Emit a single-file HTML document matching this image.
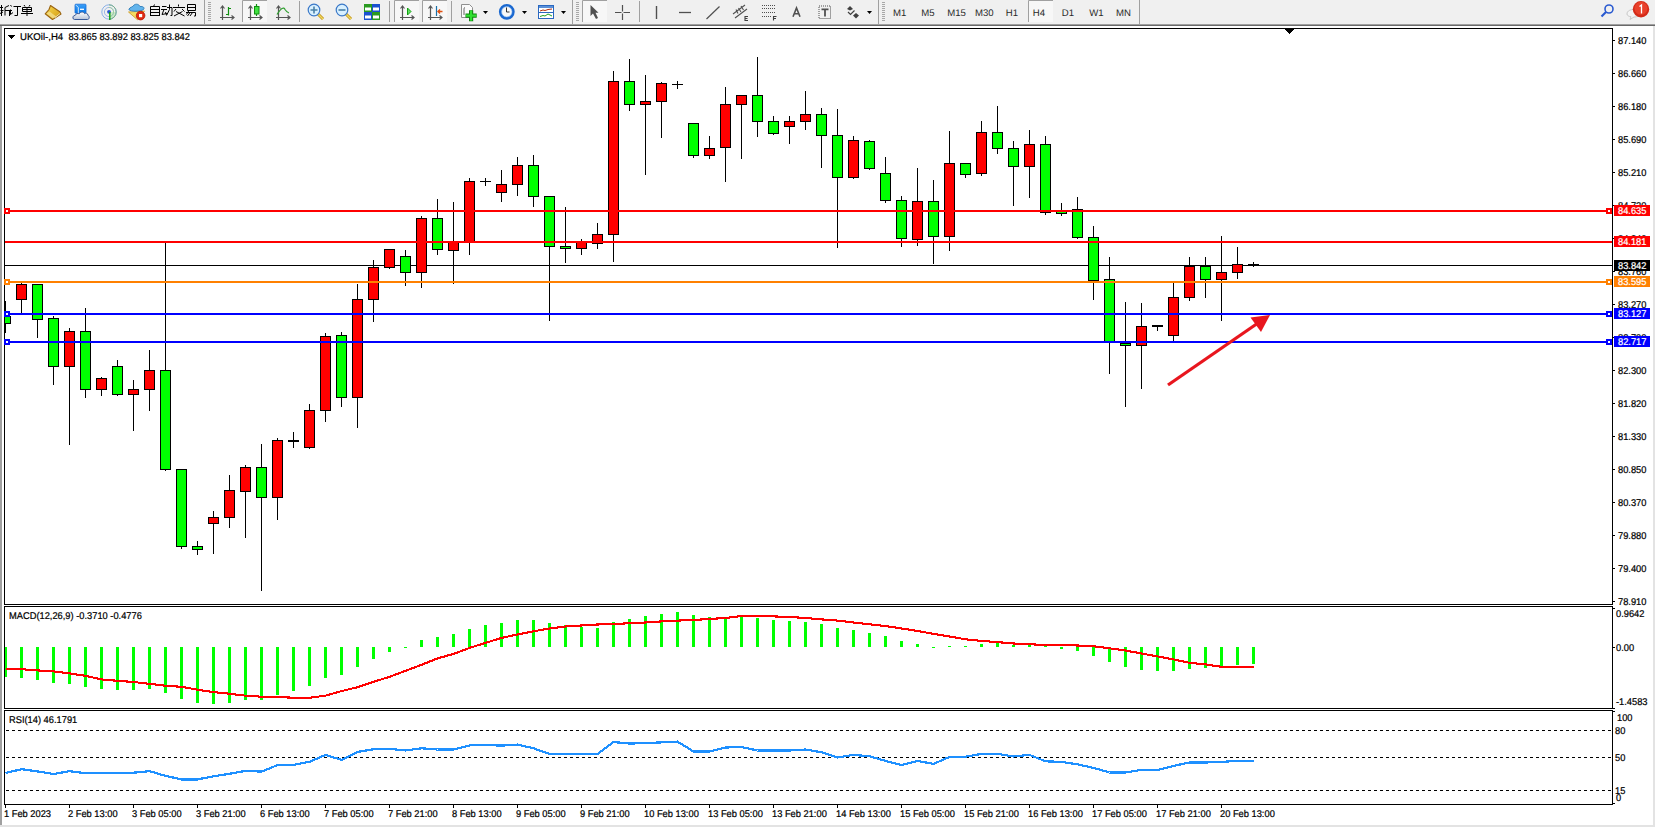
<!DOCTYPE html>
<html><head><meta charset="utf-8"><style>
html,body{margin:0;padding:0;}
body{width:1655px;height:827px;overflow:hidden;background:#f0f0f0;position:relative;font-family:"Liberation Sans", sans-serif;}
svg{position:absolute;left:0;top:0;}
text{font-family:"Liberation Sans", sans-serif;text-rendering:geometricPrecision;}
</style></head><body>
<svg width="1655" height="827" viewBox="0 0 1655 827" shape-rendering="crispEdges">
<defs><pattern id="grip" width="3" height="2" patternUnits="userSpaceOnUse"><rect width="3" height="1" fill="#a8a8a8"/><rect y="1" width="3" height="1" fill="#f0f0f0"/></pattern></defs>
<rect x="0" y="0" width="1655" height="24" fill="#f0f0f0"/>
<g id="toolbar" shape-rendering="auto">
<!-- CJK glyph approximations: 新订单 -->
<g stroke="#000" stroke-width="1" fill="none">
<path d="M0 7.5H3M0.5 10.5H3.5M1.5 5V16M0 13.5L3 12"/>
<path d="M9 5.5L5 7.5V15.5M5 10.5H12M9.5 10.5V16"/>
<path d="M10.5 5L11.5 6.5M10.5 9.5V14.5L13 12.5"/>
<path d="M13.5 6.5H21M17.5 6.5V15.5H14.5"/>
<path d="M24 5L25 6.5M30 5L29 6.5M22.5 7.5H31.5V11.5H22.5ZM22.5 9.5H31.5M27 7.5V16M21 13.5H33"/>
</g>
<!-- 自动交易 -->
<g stroke="#000" stroke-width="1" fill="none">
<path d="M154.5 4.5L153.5 6.5M150.5 6.5H159.5V16M150.5 6.5V16M150.5 9.5H159.5M150.5 12.5H159.5M150.5 15.5H159.5"/>
<path d="M162 6.5H166.5M161 9.5H167M164 9.5L162 14.5L167 13.5M165.5 12L166.5 15M167 7.5H172V15.5H170.5M169.5 4.5V9.5L166.5 15.5"/>
<path d="M178.5 4.5V6.5M173 7.5H185M176 9L174 11.5M182 9L184.5 11.5M176 11.5L184.5 16M182.5 11.5L174 16"/>
<path d="M187.5 4.5H195.5V10.5H187.5ZM187.5 7.5H195.5M186 12.5H195.5V16H194M189 10.5L186.5 14.5M190 12.5L187.5 16M192.5 12.5L190 16"/>
</g>
<!-- gold book -->
<defs><linearGradient id="gb" x1="0" y1="0" x2="1" y2="1"><stop offset="0" stop-color="#f6d850"/><stop offset="1" stop-color="#d49a10"/></linearGradient>
<linearGradient id="cl" x1="0" y1="0" x2="0" y2="1"><stop offset="0" stop-color="#ffffff"/><stop offset="1" stop-color="#b8c4d8"/></linearGradient>
<linearGradient id="bl" x1="0" y1="0" x2="0" y2="1"><stop offset="0" stop-color="#3aa0f8"/><stop offset="1" stop-color="#0a78e8"/></linearGradient></defs>
<path d="M50.5 5.5L59.8 11.8L61 14L52.5 19.5L45.2 13.8L49 9.5Z" fill="url(#gb)" stroke="#9a6410" stroke-width="1.1" stroke-linejoin="round"/>
<path d="M46.5 13.6L49.5 11.5L56.5 16.8L52.8 18.6Z" fill="#f4e090" opacity="0.8"/>
<path d="M55 17.5L60 13.5" stroke="#e8dca8" stroke-width="1"/>
<!-- building + cloud -->
<rect x="75" y="4.2" width="11" height="9" rx="0.8" fill="url(#bl)" stroke="#1a70d8" stroke-width="0.8"/>
<path d="M76 5.2L78.3 7.5V13" fill="none" stroke="#e8f4ff" stroke-width="0.9"/>
<path d="M80 9.3H84" stroke="#ffffff" stroke-width="1.3"/>
<path d="M74.6 19.5C72.3 19.5 72.2 15.3 75.2 15.4C75.6 13.6 78 13 79.2 13.9C80 11.6 83.8 11.4 84.6 13.6C85.6 12.8 88.2 13.3 87.9 15.3C89.8 15.8 89.6 19.5 87.5 19.5Z" fill="url(#cl)" stroke="#3a5a98" stroke-width="1"/>
<!-- signal -->
<path d="M109 12L109 19.5A7.5 7.5 0 0 0 116.5 12Z" fill="#c8e8c0" opacity="0.9"/>
<circle cx="109" cy="12" r="7.2" fill="none" stroke="#8ab0e8" stroke-width="1"/>
<circle cx="109" cy="12" r="4.6" fill="none" stroke="#9cb8e8" stroke-width="1"/>
<path d="M109 4.8A7.2 7.2 0 0 1 109 19.2" fill="none" stroke="#78b088" stroke-width="1"/>
<path d="M109 7.4A4.6 4.6 0 0 1 109 16.6" fill="none" stroke="#a0d0a0" stroke-width="1"/>
<circle cx="109" cy="11.8" r="1.9" fill="#2a58d0"/>
<path d="M109.8 12V20" fill="none" stroke="#10a010" stroke-width="1.4"/>
<!-- hat / auto trading -->
<path d="M128.5 12L144.5 11L137.5 19.8Z" fill="#f4dc60" stroke="#d0a030" stroke-width="0.9" stroke-linejoin="round"/>
<path d="M128.8 9.5C130 6.5 133 7.5 134 5C136 3.5 139 4.2 140 6.5C143 6.2 145 7.5 143.5 9.5C141 11.5 131 12 128.8 9.5Z" fill="#62b4ec" stroke="#2a7ab8" stroke-width="0.9"/>
<circle cx="140.6" cy="15.6" r="4.3" fill="#e02a10" stroke="#b81808" stroke-width="0.8"/>
<rect x="139" y="14" width="3.2" height="3.2" fill="#fff"/>
<!-- separators & grips -->
<g fill="#a0a0a0">
<rect x="204" y="0" width="1" height="24"/>
<rect x="299" y="1" width="1" height="21"/>
<rect x="389" y="1" width="1" height="21"/>
<rect x="451" y="1" width="1" height="21"/>
<rect x="572" y="0" width="1" height="24"/>
<rect x="639" y="1" width="1" height="21"/>
<rect x="878" y="0" width="1" height="24"/>
<rect x="1139" y="0" width="1" height="24"/>
</g>
<g fill="none" stroke="#b4b4b4" stroke-width="1" stroke-dasharray="1,2">
<path d="M208 2.5V21M210 2.5V21" stroke-dasharray="none" stroke="none"/>
</g>
<g fill="#a8a8a8">
<rect x="208" y="2" width="3" height="19" fill="url(#grip)"/>
<rect x="576" y="2" width="3" height="19" fill="url(#grip)"/>
<rect x="882" y="2" width="3" height="19" fill="url(#grip)"/>
</g>
<!-- pressed buttons -->
<g>
<rect x="242" y="0" width="25" height="22" fill="#f7f7f7"/>
<path d="M242.5 22V0.5H267" fill="none" stroke="#a0a0a0" stroke-width="1"/>
<rect x="394" y="0" width="25" height="22" fill="#f7f7f7"/>
<path d="M394.5 22V0.5H419" fill="none" stroke="#a0a0a0" stroke-width="1"/>
<rect x="422" y="0" width="25" height="22" fill="#f7f7f7"/>
<path d="M422.5 22V0.5H447" fill="none" stroke="#a0a0a0" stroke-width="1"/>
<rect x="582" y="0" width="25" height="22" fill="#f7f7f7"/>
<path d="M582.5 22V0.5H607" fill="none" stroke="#a0a0a0" stroke-width="1"/>
<rect x="1028" y="0" width="25" height="22" fill="#f7f7f7"/>
<path d="M1028.5 22V0.5H1053" fill="none" stroke="#a0a0a0" stroke-width="1"/>
</g>
<!-- axes icons -->
<g fill="none" stroke="#555" stroke-width="1.2">
<path d="M222.5 6.5V20M220 17.5H234M220.5 8.5L222.5 6L224.5 8.5M231.5 15.5L234 17.5L231.5 19.5"/>
<path d="M250.5 6.5V20M248 17.5H262M248.5 8.5L250.5 6L252.5 8.5M259.5 15.5L262 17.5L259.5 19.5"/>
<path d="M278.5 6.5V20M276 17.5H290M276.5 8.5L278.5 6L280.5 8.5M287.5 15.5L290 17.5L287.5 19.5"/>
<path d="M402.5 6.5V20M400 17.5H414M400.5 8.5L402.5 6L404.5 8.5M411.5 15.5L414 17.5L411.5 19.5"/>
<path d="M430.5 6.5V20M428 17.5H442M428.5 8.5L430.5 6L432.5 8.5M439.5 15.5L442 17.5L439.5 19.5"/>
</g>
<path d="M228.5 7V15.5M228.5 8.5H231M228.5 14.5H226" fill="none" stroke="#109010" stroke-width="1.2"/>
<path d="M256.5 4V16" stroke="#109010" stroke-width="1.2"/>
<rect x="254.5" y="6.5" width="4.5" height="7.5" fill="#40e040" stroke="#109010" stroke-width="1"/>
<path d="M277 14.5Q283 5 285 9.5Q287 12.5 289 13" fill="none" stroke="#30a030" stroke-width="1.2"/>
<path d="M407.5 8L411 11.5L407.5 15Z" fill="#60e060" stroke="#10a010" stroke-width="1"/>
<path d="M436.5 6V16" stroke="#1a70a8" stroke-width="1.2"/>
<path d="M438 11.5H442.5M440 9.5L438 11.5L440 13.5" fill="none" stroke="#e05010" stroke-width="1.4"/>
<!-- zoom in/out -->
<g>
<path d="M318 14L323 19" stroke="#c09010" stroke-width="3"/>
<path d="M318 14L323 19" stroke="#f0d860" stroke-width="1.5"/>
<circle cx="314" cy="10" r="5.8" fill="#d8f0ff" stroke="#3a78c8" stroke-width="1.2"/>
<path d="M310.5 10H317.5M314 6.5V13.5" stroke="#4a80a8" stroke-width="1.6"/>
<path d="M346 14L351 19" stroke="#c09010" stroke-width="3"/>
<path d="M346 14L351 19" stroke="#f0d860" stroke-width="1.5"/>
<circle cx="342" cy="10" r="5.8" fill="#d8f0ff" stroke="#3a78c8" stroke-width="1.2"/>
<path d="M338.5 10H345.5" stroke="#4a80a8" stroke-width="1.6"/>
</g>
<!-- tile windows -->
<g>
<rect x="364" y="4" width="8" height="8" fill="#2a9a20"/>
<rect x="372" y="4" width="8" height="8" fill="#1a50d0"/>
<rect x="364" y="12" width="8" height="8" fill="#1a50d0"/>
<rect x="372" y="12" width="8" height="8" fill="#2a9a20"/>
<g fill="#fff"><rect x="365" y="7.5" width="6" height="3"/><rect x="373" y="7.5" width="6" height="3"/><rect x="365" y="15.5" width="6" height="3"/><rect x="373" y="15.5" width="6" height="3"/></g>
</g>
<!-- indicators doc + plus -->
<path d="M461.5 4.5H469.5L472.5 7.5V17.5H461.5Z" fill="#fafafa" stroke="#909090" stroke-width="1"/>
<path d="M465 7.5C464 7.5 464 9 464 10V15" fill="none" stroke="#404040" stroke-width="0.8"/>
<path d="M465.5 15.7H476.7M471.1 10.2V21.2" stroke="#108010" stroke-width="4.2"/>
<path d="M465.9 15.7H476.3M471.1 10.6V20.8" stroke="#30e030" stroke-width="2.2"/>
<!-- clock -->
<circle cx="506.8" cy="11.8" r="6.6" fill="#f8f8f8" stroke="#1a68d0" stroke-width="2.6"/><circle cx="506.8" cy="11.8" r="5.2" fill="none" stroke="#7ab0f0" stroke-width="0.6"/>
<path d="M506.5 7.5V12H509.5" fill="none" stroke="#333" stroke-width="1"/>
<!-- template -->
<rect x="538.5" y="5.5" width="15" height="13" fill="#fff" stroke="#2a68c0" stroke-width="1"/>
<rect x="539" y="6" width="14" height="2" fill="#5a90d8"/>
<path d="M539 12.5H553" stroke="#2a68c0" stroke-width="1"/>
<path d="M540 11L543 10L545 10.5L548 9.5L552 9" fill="none" stroke="#b03010" stroke-width="1"/>
<path d="M540 16.5L543 15.5L545 16L548 14L552 16" fill="none" stroke="#20a020" stroke-width="1"/>
<!-- dropdown arrows -->
<g fill="#000">
<path d="M483 11H488L485.5 14Z"/>
<path d="M522 11H527L524.5 14Z"/>
<path d="M561 11H566L563.5 14Z"/>
<path d="M867 11H872L869.5 14Z"/>
</g>
<!-- cursor -->
<path d="M590.5 5V16L593 13.5L596 19L598 18L595.5 12.8H598.5Z" fill="#505050"/>
<!-- crosshair -->
<path d="M615 12.5H621.5M623.5 12.5H630M622.5 5V11.5M622.5 13.5V20" stroke="#505050" stroke-width="1.2"/>
<!-- line tools -->
<path d="M656.5 6V19" stroke="#505050" stroke-width="1.4"/>
<path d="M679 12.5H691" stroke="#505050" stroke-width="1.3"/>
<path d="M706.5 19L719.5 6.5" stroke="#505050" stroke-width="1.2"/>
<!-- fib E -->
<path d="M733 14L745 5M735 18L747 9M736 9.5L738 13.5M738.5 8L741 12M741 6L743.5 10" fill="none" stroke="#505050" stroke-width="1.1"/>
<path d="M748 16.5H745V20.5H748M745 18.5H747.5" fill="none" stroke="#404040" stroke-width="1.1"/>
<!-- fib F dotted -->
<g stroke="#505050" stroke-width="1" stroke-dasharray="1,1">
<path d="M762 5.5H775M762 8.5H775M762 12.5H775M762 16.5H771"/>
</g>
<path d="M776.5 16.5H773.5V20.5M773.5 18.5H776" fill="none" stroke="#404040" stroke-width="1.1"/>
<!-- A -->
<path d="M793 16.8L796.5 8L800 16.8M794.3 13.8H798.7" fill="none" stroke="#505050" stroke-width="1.6"/>
<!-- T box -->
<rect x="819" y="6" width="11.5" height="12.5" fill="none" stroke="#505050" stroke-width="1" stroke-dasharray="1,1"/>
<path d="M821.5 9.3H828.5M825 9.3V16.5" stroke="#505050" stroke-width="1.8"/>
<!-- arrows icon -->
<path d="M850 6L853 9L850 10.5L847 9Z" fill="#404040"/>
<path d="M856 13L859 15.5L856 18.5L853 15.5Z" fill="#404040"/>
<path d="M848 12L850.5 14.5L854.5 10.5" fill="none" stroke="#404040" stroke-width="1.2"/>
<!-- timeframe text -->
<g font-family="Liberation Sans, sans-serif" font-size="9.6" fill="#2a2a2a" style="text-rendering:geometricPrecision">
<text x="893" y="15.7">M1</text>
<text x="921.3" y="15.7">M5</text>
<text x="947.3" y="15.7">M15</text>
<text x="975" y="15.7">M30</text>
<text x="1005.8" y="15.7">H1</text>
<text x="1032.8" y="15.7">H4</text>
<text x="1061.8" y="15.7">D1</text>
<text x="1089.3" y="15.7">W1</text>
<text x="1116" y="15.7">MN</text>
</g>
<!-- search -->
<circle cx="1609" cy="9" r="4" fill="none" stroke="#2a5ad0" stroke-width="1.6"/>
<path d="M1606 12L1601.5 16.5" stroke="#2a5ad0" stroke-width="2.2"/>
<!-- chat + badge -->
<path d="M1627 14C1627 10.5 1631 9.5 1634 9.5C1637 9.5 1640 11 1640 14C1640 16 1637 17 1634 17L1630 19.5L1631 16.8C1628.5 16.3 1627 15.5 1627 14Z" fill="#f4f4f4" stroke="#c8c8c8" stroke-width="1"/>
<circle cx="1641" cy="9.3" r="8.2" fill="#d42a18"/>
<circle cx="1641" cy="8.3" r="6.5" fill="#e8402a"/>
<path d="M1639.5 6.5L1641.5 5V13.5" fill="none" stroke="#fff" stroke-width="1.3"/>
</g>

<rect x="0" y="25" width="1655" height="802" fill="#fff"/>
<rect x="0" y="24" width="2" height="801" fill="#a0a0a0"/>
<rect x="1653" y="24" width="2" height="803" fill="#e3e3e3"/>
<rect x="0" y="825" width="1655" height="2" fill="#e3e3e3"/>
<rect x="0" y="24" width="1655" height="1" fill="#a0a0a0"/>
<rect x="0" y="25" width="1655" height="1" fill="#696969"/>
<defs><clipPath id="cm"><rect x="5" y="29" width="1607" height="575"/></clipPath><clipPath id="cd"><rect x="5" y="607" width="1607" height="101"/></clipPath><clipPath id="cr"><rect x="5" y="711" width="1607" height="92"/></clipPath></defs>
<g clip-path="url(#cm)">
<rect x="4" y="265" width="1608" height="1" fill="#000000"/>
<rect x="5" y="301" width="1" height="32" fill="#000"/>
<rect x="0" y="316" width="11" height="8" fill="#000"/>
<rect x="1" y="317" width="9" height="6" fill="#00ff00"/>
<rect x="21" y="283" width="1" height="30" fill="#000"/>
<rect x="16" y="284" width="11" height="16" fill="#000"/>
<rect x="17" y="285" width="9" height="14" fill="#ff0000"/>
<rect x="37" y="284" width="1" height="54" fill="#000"/>
<rect x="32" y="284" width="11" height="36" fill="#000"/>
<rect x="33" y="285" width="9" height="34" fill="#00ff00"/>
<rect x="53" y="316" width="1" height="69" fill="#000"/>
<rect x="48" y="318" width="11" height="49" fill="#000"/>
<rect x="49" y="319" width="9" height="47" fill="#00ff00"/>
<rect x="69" y="328" width="1" height="117" fill="#000"/>
<rect x="64" y="331" width="11" height="36" fill="#000"/>
<rect x="65" y="332" width="9" height="34" fill="#ff0000"/>
<rect x="85" y="308" width="1" height="90" fill="#000"/>
<rect x="80" y="331" width="11" height="59" fill="#000"/>
<rect x="81" y="332" width="9" height="57" fill="#00ff00"/>
<rect x="101" y="377" width="1" height="19" fill="#000"/>
<rect x="96" y="378" width="11" height="12" fill="#000"/>
<rect x="97" y="379" width="9" height="10" fill="#ff0000"/>
<rect x="117" y="360" width="1" height="36" fill="#000"/>
<rect x="112" y="366" width="11" height="29" fill="#000"/>
<rect x="113" y="367" width="9" height="27" fill="#00ff00"/>
<rect x="133" y="380" width="1" height="51" fill="#000"/>
<rect x="128" y="389" width="11" height="6" fill="#000"/>
<rect x="129" y="390" width="9" height="4" fill="#ff0000"/>
<rect x="149" y="350" width="1" height="61" fill="#000"/>
<rect x="144" y="370" width="11" height="20" fill="#000"/>
<rect x="145" y="371" width="9" height="18" fill="#ff0000"/>
<rect x="165" y="242" width="1" height="229" fill="#000"/>
<rect x="160" y="370" width="11" height="100" fill="#000"/>
<rect x="161" y="371" width="9" height="98" fill="#00ff00"/>
<rect x="181" y="469" width="1" height="80" fill="#000"/>
<rect x="176" y="469" width="11" height="78" fill="#000"/>
<rect x="177" y="470" width="9" height="76" fill="#00ff00"/>
<rect x="197" y="541" width="1" height="14" fill="#000"/>
<rect x="192" y="546" width="11" height="4" fill="#000"/>
<rect x="193" y="547" width="9" height="2" fill="#00ff00"/>
<rect x="213" y="511" width="1" height="43" fill="#000"/>
<rect x="208" y="517" width="11" height="7" fill="#000"/>
<rect x="209" y="518" width="9" height="5" fill="#ff0000"/>
<rect x="229" y="475" width="1" height="53" fill="#000"/>
<rect x="224" y="490" width="11" height="28" fill="#000"/>
<rect x="225" y="491" width="9" height="26" fill="#ff0000"/>
<rect x="245" y="465" width="1" height="73" fill="#000"/>
<rect x="240" y="467" width="11" height="25" fill="#000"/>
<rect x="241" y="468" width="9" height="23" fill="#ff0000"/>
<rect x="261" y="444" width="1" height="147" fill="#000"/>
<rect x="256" y="467" width="11" height="31" fill="#000"/>
<rect x="257" y="468" width="9" height="29" fill="#00ff00"/>
<rect x="277" y="438" width="1" height="82" fill="#000"/>
<rect x="272" y="440" width="11" height="58" fill="#000"/>
<rect x="273" y="441" width="9" height="56" fill="#ff0000"/>
<rect x="293" y="432" width="1" height="16" fill="#000"/>
<rect x="288" y="440" width="11" height="2" fill="#000"/>
<rect x="309" y="404" width="1" height="45" fill="#000"/>
<rect x="304" y="410" width="11" height="38" fill="#000"/>
<rect x="305" y="411" width="9" height="36" fill="#ff0000"/>
<rect x="325" y="333" width="1" height="89" fill="#000"/>
<rect x="320" y="336" width="11" height="75" fill="#000"/>
<rect x="321" y="337" width="9" height="73" fill="#ff0000"/>
<rect x="341" y="332" width="1" height="75" fill="#000"/>
<rect x="336" y="335" width="11" height="63" fill="#000"/>
<rect x="337" y="336" width="9" height="61" fill="#00ff00"/>
<rect x="357" y="284" width="1" height="144" fill="#000"/>
<rect x="352" y="299" width="11" height="99" fill="#000"/>
<rect x="353" y="300" width="9" height="97" fill="#ff0000"/>
<rect x="373" y="260" width="1" height="62" fill="#000"/>
<rect x="368" y="267" width="11" height="33" fill="#000"/>
<rect x="369" y="268" width="9" height="31" fill="#ff0000"/>
<rect x="389" y="249" width="1" height="20" fill="#000"/>
<rect x="384" y="249" width="11" height="19" fill="#000"/>
<rect x="385" y="250" width="9" height="17" fill="#ff0000"/>
<rect x="405" y="250" width="1" height="36" fill="#000"/>
<rect x="400" y="256" width="11" height="17" fill="#000"/>
<rect x="401" y="257" width="9" height="15" fill="#00ff00"/>
<rect x="421" y="216" width="1" height="72" fill="#000"/>
<rect x="416" y="218" width="11" height="55" fill="#000"/>
<rect x="417" y="219" width="9" height="53" fill="#ff0000"/>
<rect x="437" y="199" width="1" height="56" fill="#000"/>
<rect x="432" y="218" width="11" height="32" fill="#000"/>
<rect x="433" y="219" width="9" height="30" fill="#00ff00"/>
<rect x="453" y="202" width="1" height="82" fill="#000"/>
<rect x="448" y="242" width="11" height="9" fill="#000"/>
<rect x="449" y="243" width="9" height="7" fill="#ff0000"/>
<rect x="469" y="178" width="1" height="77" fill="#000"/>
<rect x="464" y="181" width="11" height="62" fill="#000"/>
<rect x="465" y="182" width="9" height="60" fill="#ff0000"/>
<rect x="485" y="178" width="1" height="8" fill="#000"/>
<rect x="480" y="181" width="11" height="1" fill="#000"/>
<rect x="501" y="170" width="1" height="32" fill="#000"/>
<rect x="496" y="184" width="11" height="9" fill="#000"/>
<rect x="497" y="185" width="9" height="7" fill="#ff0000"/>
<rect x="517" y="157" width="1" height="39" fill="#000"/>
<rect x="512" y="165" width="11" height="20" fill="#000"/>
<rect x="513" y="166" width="9" height="18" fill="#ff0000"/>
<rect x="533" y="155" width="1" height="52" fill="#000"/>
<rect x="528" y="165" width="11" height="32" fill="#000"/>
<rect x="529" y="166" width="9" height="30" fill="#00ff00"/>
<rect x="549" y="196" width="1" height="125" fill="#000"/>
<rect x="544" y="196" width="11" height="51" fill="#000"/>
<rect x="545" y="197" width="9" height="49" fill="#00ff00"/>
<rect x="565" y="207" width="1" height="56" fill="#000"/>
<rect x="560" y="246" width="11" height="3" fill="#000"/>
<rect x="561" y="247" width="9" height="1" fill="#00ff00"/>
<rect x="581" y="239" width="1" height="16" fill="#000"/>
<rect x="576" y="241" width="11" height="8" fill="#000"/>
<rect x="577" y="242" width="9" height="6" fill="#ff0000"/>
<rect x="597" y="223" width="1" height="26" fill="#000"/>
<rect x="592" y="234" width="11" height="10" fill="#000"/>
<rect x="593" y="235" width="9" height="8" fill="#ff0000"/>
<rect x="613" y="71" width="1" height="191" fill="#000"/>
<rect x="608" y="81" width="11" height="154" fill="#000"/>
<rect x="609" y="82" width="9" height="152" fill="#ff0000"/>
<rect x="629" y="59" width="1" height="52" fill="#000"/>
<rect x="624" y="81" width="11" height="24" fill="#000"/>
<rect x="625" y="82" width="9" height="22" fill="#00ff00"/>
<rect x="645" y="75" width="1" height="100" fill="#000"/>
<rect x="640" y="101" width="11" height="4" fill="#000"/>
<rect x="641" y="102" width="9" height="2" fill="#ff0000"/>
<rect x="661" y="82" width="1" height="56" fill="#000"/>
<rect x="656" y="83" width="11" height="19" fill="#000"/>
<rect x="657" y="84" width="9" height="17" fill="#ff0000"/>
<rect x="677" y="81" width="1" height="8" fill="#000"/>
<rect x="672" y="84" width="11" height="1" fill="#000"/>
<rect x="693" y="123" width="1" height="35" fill="#000"/>
<rect x="688" y="123" width="11" height="33" fill="#000"/>
<rect x="689" y="124" width="9" height="31" fill="#00ff00"/>
<rect x="709" y="136" width="1" height="23" fill="#000"/>
<rect x="704" y="148" width="11" height="8" fill="#000"/>
<rect x="705" y="149" width="9" height="6" fill="#ff0000"/>
<rect x="725" y="87" width="1" height="95" fill="#000"/>
<rect x="720" y="104" width="11" height="44" fill="#000"/>
<rect x="721" y="105" width="9" height="42" fill="#ff0000"/>
<rect x="741" y="95" width="1" height="64" fill="#000"/>
<rect x="736" y="95" width="11" height="10" fill="#000"/>
<rect x="737" y="96" width="9" height="8" fill="#ff0000"/>
<rect x="757" y="57" width="1" height="80" fill="#000"/>
<rect x="752" y="95" width="11" height="27" fill="#000"/>
<rect x="753" y="96" width="9" height="25" fill="#00ff00"/>
<rect x="773" y="116" width="1" height="19" fill="#000"/>
<rect x="768" y="121" width="11" height="13" fill="#000"/>
<rect x="769" y="122" width="9" height="11" fill="#00ff00"/>
<rect x="789" y="116" width="1" height="28" fill="#000"/>
<rect x="784" y="121" width="11" height="6" fill="#000"/>
<rect x="785" y="122" width="9" height="4" fill="#ff0000"/>
<rect x="805" y="91" width="1" height="39" fill="#000"/>
<rect x="800" y="114" width="11" height="8" fill="#000"/>
<rect x="801" y="115" width="9" height="6" fill="#ff0000"/>
<rect x="821" y="108" width="1" height="60" fill="#000"/>
<rect x="816" y="114" width="11" height="22" fill="#000"/>
<rect x="817" y="115" width="9" height="20" fill="#00ff00"/>
<rect x="837" y="109" width="1" height="139" fill="#000"/>
<rect x="832" y="135" width="11" height="43" fill="#000"/>
<rect x="833" y="136" width="9" height="41" fill="#00ff00"/>
<rect x="853" y="136" width="1" height="43" fill="#000"/>
<rect x="848" y="140" width="11" height="38" fill="#000"/>
<rect x="849" y="141" width="9" height="36" fill="#ff0000"/>
<rect x="869" y="140" width="1" height="30" fill="#000"/>
<rect x="864" y="141" width="11" height="28" fill="#000"/>
<rect x="865" y="142" width="9" height="26" fill="#00ff00"/>
<rect x="885" y="157" width="1" height="46" fill="#000"/>
<rect x="880" y="173" width="11" height="28" fill="#000"/>
<rect x="881" y="174" width="9" height="26" fill="#00ff00"/>
<rect x="901" y="196" width="1" height="51" fill="#000"/>
<rect x="896" y="200" width="11" height="39" fill="#000"/>
<rect x="897" y="201" width="9" height="37" fill="#00ff00"/>
<rect x="917" y="168" width="1" height="78" fill="#000"/>
<rect x="912" y="201" width="11" height="39" fill="#000"/>
<rect x="913" y="202" width="9" height="37" fill="#ff0000"/>
<rect x="933" y="180" width="1" height="84" fill="#000"/>
<rect x="928" y="201" width="11" height="36" fill="#000"/>
<rect x="929" y="202" width="9" height="34" fill="#00ff00"/>
<rect x="949" y="131" width="1" height="120" fill="#000"/>
<rect x="944" y="163" width="11" height="74" fill="#000"/>
<rect x="945" y="164" width="9" height="72" fill="#ff0000"/>
<rect x="965" y="163" width="1" height="15" fill="#000"/>
<rect x="960" y="163" width="11" height="12" fill="#000"/>
<rect x="961" y="164" width="9" height="10" fill="#00ff00"/>
<rect x="981" y="121" width="1" height="55" fill="#000"/>
<rect x="976" y="132" width="11" height="42" fill="#000"/>
<rect x="977" y="133" width="9" height="40" fill="#ff0000"/>
<rect x="997" y="106" width="1" height="48" fill="#000"/>
<rect x="992" y="132" width="11" height="17" fill="#000"/>
<rect x="993" y="133" width="9" height="15" fill="#00ff00"/>
<rect x="1013" y="141" width="1" height="65" fill="#000"/>
<rect x="1008" y="148" width="11" height="19" fill="#000"/>
<rect x="1009" y="149" width="9" height="17" fill="#00ff00"/>
<rect x="1029" y="130" width="1" height="68" fill="#000"/>
<rect x="1024" y="144" width="11" height="23" fill="#000"/>
<rect x="1025" y="145" width="9" height="21" fill="#ff0000"/>
<rect x="1045" y="136" width="1" height="79" fill="#000"/>
<rect x="1040" y="144" width="11" height="69" fill="#000"/>
<rect x="1041" y="145" width="9" height="67" fill="#00ff00"/>
<rect x="1061" y="203" width="1" height="13" fill="#000"/>
<rect x="1056" y="211" width="11" height="3" fill="#000"/>
<rect x="1057" y="212" width="9" height="1" fill="#00ff00"/>
<rect x="1077" y="197" width="1" height="42" fill="#000"/>
<rect x="1072" y="209" width="11" height="29" fill="#000"/>
<rect x="1073" y="210" width="9" height="27" fill="#00ff00"/>
<rect x="1093" y="226" width="1" height="74" fill="#000"/>
<rect x="1088" y="237" width="11" height="44" fill="#000"/>
<rect x="1089" y="238" width="9" height="42" fill="#00ff00"/>
<rect x="1109" y="257" width="1" height="117" fill="#000"/>
<rect x="1104" y="279" width="11" height="63" fill="#000"/>
<rect x="1105" y="280" width="9" height="61" fill="#00ff00"/>
<rect x="1125" y="302" width="1" height="105" fill="#000"/>
<rect x="1120" y="343" width="11" height="3" fill="#000"/>
<rect x="1121" y="344" width="9" height="1" fill="#00ff00"/>
<rect x="1141" y="303" width="1" height="86" fill="#000"/>
<rect x="1136" y="326" width="11" height="20" fill="#000"/>
<rect x="1137" y="327" width="9" height="18" fill="#ff0000"/>
<rect x="1157" y="325" width="1" height="6" fill="#000"/>
<rect x="1152" y="325" width="11" height="2" fill="#000"/>
<rect x="1173" y="283" width="1" height="58" fill="#000"/>
<rect x="1168" y="297" width="11" height="39" fill="#000"/>
<rect x="1169" y="298" width="9" height="37" fill="#ff0000"/>
<rect x="1189" y="257" width="1" height="44" fill="#000"/>
<rect x="1184" y="266" width="11" height="32" fill="#000"/>
<rect x="1185" y="267" width="9" height="30" fill="#ff0000"/>
<rect x="1205" y="257" width="1" height="41" fill="#000"/>
<rect x="1200" y="266" width="11" height="14" fill="#000"/>
<rect x="1201" y="267" width="9" height="12" fill="#00ff00"/>
<rect x="1221" y="236" width="1" height="85" fill="#000"/>
<rect x="1216" y="272" width="11" height="8" fill="#000"/>
<rect x="1217" y="273" width="9" height="6" fill="#ff0000"/>
<rect x="1237" y="247" width="1" height="32" fill="#000"/>
<rect x="1232" y="264" width="11" height="9" fill="#000"/>
<rect x="1233" y="265" width="9" height="7" fill="#ff0000"/>
<rect x="1253" y="262" width="1" height="5" fill="#000"/>
<rect x="1248" y="264" width="11" height="2" fill="#000"/>
<rect x="4" y="210" width="1608" height="2" fill="#ff0000"/>
<rect x="4" y="241" width="1608" height="2" fill="#ff0000"/>
<rect x="4" y="281" width="1608" height="2" fill="#ff8000"/>
<rect x="4" y="313" width="1608" height="2" fill="#0000ff"/>
<rect x="4" y="341" width="1608" height="2" fill="#0000ff"/>
<g shape-rendering="auto"><line x1="1168" y1="385" x2="1258" y2="323" stroke="#e8161e" stroke-width="3.2"/>
<polygon points="1270,315 1250.5,317.5 1261,332" fill="#e8161e"/></g>
</g>
<polygon points="1284.5,28.5 1294.5,28.5 1289.5,34.5" fill="#000"/>
<path d="M4.5 28.5H1612.5V604.5H4.5Z" fill="none" stroke="#000" stroke-width="1"/>
<rect x="4" y="208" width="6" height="6" fill="#ff0000"/><rect x="6" y="210" width="2" height="2" fill="#fff"/>
<rect x="1606" y="208" width="6" height="6" fill="#ff0000"/><rect x="1608" y="210" width="2" height="2" fill="#fff"/>
<rect x="4" y="279" width="6" height="6" fill="#ff8000"/><rect x="6" y="281" width="2" height="2" fill="#fff"/>
<rect x="1606" y="279" width="6" height="6" fill="#ff8000"/><rect x="1608" y="281" width="2" height="2" fill="#fff"/>
<rect x="4" y="311" width="6" height="6" fill="#0000ff"/><rect x="6" y="313" width="2" height="2" fill="#fff"/>
<rect x="1606" y="311" width="6" height="6" fill="#0000ff"/><rect x="1608" y="313" width="2" height="2" fill="#fff"/>
<rect x="4" y="339" width="6" height="6" fill="#0000ff"/><rect x="6" y="341" width="2" height="2" fill="#fff"/>
<rect x="1606" y="339" width="6" height="6" fill="#0000ff"/><rect x="1608" y="341" width="2" height="2" fill="#fff"/>
<g clip-path="url(#cd)">
<rect x="4" y="647" width="3" height="30" fill="#00ff00"/>
<rect x="20" y="647" width="3" height="31" fill="#00ff00"/>
<rect x="36" y="647" width="3" height="33" fill="#00ff00"/>
<rect x="52" y="647" width="3" height="36" fill="#00ff00"/>
<rect x="68" y="647" width="3" height="37" fill="#00ff00"/>
<rect x="84" y="647" width="3" height="40" fill="#00ff00"/>
<rect x="100" y="647" width="3" height="42" fill="#00ff00"/>
<rect x="116" y="647" width="3" height="43" fill="#00ff00"/>
<rect x="132" y="647" width="3" height="43" fill="#00ff00"/>
<rect x="148" y="647" width="3" height="42" fill="#00ff00"/>
<rect x="164" y="647" width="3" height="46" fill="#00ff00"/>
<rect x="180" y="647" width="3" height="52" fill="#00ff00"/>
<rect x="196" y="647" width="3" height="56" fill="#00ff00"/>
<rect x="212" y="647" width="3" height="57" fill="#00ff00"/>
<rect x="228" y="647" width="3" height="56" fill="#00ff00"/>
<rect x="244" y="647" width="3" height="53" fill="#00ff00"/>
<rect x="260" y="647" width="3" height="53" fill="#00ff00"/>
<rect x="276" y="647" width="3" height="48" fill="#00ff00"/>
<rect x="292" y="647" width="3" height="44" fill="#00ff00"/>
<rect x="308" y="647" width="3" height="39" fill="#00ff00"/>
<rect x="324" y="647" width="3" height="31" fill="#00ff00"/>
<rect x="340" y="647" width="3" height="28" fill="#00ff00"/>
<rect x="356" y="647" width="3" height="20" fill="#00ff00"/>
<rect x="372" y="647" width="3" height="12" fill="#00ff00"/>
<rect x="388" y="647" width="3" height="5" fill="#00ff00"/>
<rect x="404" y="647" width="3" height="1" fill="#00ff00"/>
<rect x="420" y="640" width="3" height="7" fill="#00ff00"/>
<rect x="436" y="637" width="3" height="10" fill="#00ff00"/>
<rect x="452" y="634" width="3" height="13" fill="#00ff00"/>
<rect x="468" y="629" width="3" height="18" fill="#00ff00"/>
<rect x="484" y="625" width="3" height="22" fill="#00ff00"/>
<rect x="500" y="623" width="3" height="24" fill="#00ff00"/>
<rect x="516" y="620" width="3" height="27" fill="#00ff00"/>
<rect x="532" y="620" width="3" height="27" fill="#00ff00"/>
<rect x="548" y="623" width="3" height="24" fill="#00ff00"/>
<rect x="564" y="625" width="3" height="22" fill="#00ff00"/>
<rect x="580" y="627" width="3" height="20" fill="#00ff00"/>
<rect x="596" y="628" width="3" height="19" fill="#00ff00"/>
<rect x="612" y="622" width="3" height="25" fill="#00ff00"/>
<rect x="628" y="619" width="3" height="28" fill="#00ff00"/>
<rect x="644" y="616" width="3" height="31" fill="#00ff00"/>
<rect x="660" y="614" width="3" height="33" fill="#00ff00"/>
<rect x="676" y="612" width="3" height="35" fill="#00ff00"/>
<rect x="692" y="615" width="3" height="32" fill="#00ff00"/>
<rect x="708" y="617" width="3" height="30" fill="#00ff00"/>
<rect x="724" y="617" width="3" height="30" fill="#00ff00"/>
<rect x="740" y="617" width="3" height="30" fill="#00ff00"/>
<rect x="756" y="618" width="3" height="29" fill="#00ff00"/>
<rect x="772" y="620" width="3" height="27" fill="#00ff00"/>
<rect x="788" y="621" width="3" height="26" fill="#00ff00"/>
<rect x="804" y="622" width="3" height="25" fill="#00ff00"/>
<rect x="820" y="624" width="3" height="23" fill="#00ff00"/>
<rect x="836" y="628" width="3" height="19" fill="#00ff00"/>
<rect x="852" y="630" width="3" height="17" fill="#00ff00"/>
<rect x="868" y="633" width="3" height="14" fill="#00ff00"/>
<rect x="884" y="636" width="3" height="11" fill="#00ff00"/>
<rect x="900" y="641" width="3" height="6" fill="#00ff00"/>
<rect x="916" y="644" width="3" height="3" fill="#00ff00"/>
<rect x="932" y="647" width="3" height="1" fill="#00ff00"/>
<rect x="948" y="646" width="3" height="1" fill="#00ff00"/>
<rect x="964" y="646" width="3" height="1" fill="#00ff00"/>
<rect x="980" y="644" width="3" height="3" fill="#00ff00"/>
<rect x="996" y="643" width="3" height="4" fill="#00ff00"/>
<rect x="1012" y="645" width="3" height="2" fill="#00ff00"/>
<rect x="1028" y="644" width="3" height="3" fill="#00ff00"/>
<rect x="1044" y="646" width="3" height="1" fill="#00ff00"/>
<rect x="1060" y="647" width="3" height="2" fill="#00ff00"/>
<rect x="1076" y="647" width="3" height="4" fill="#00ff00"/>
<rect x="1092" y="647" width="3" height="9" fill="#00ff00"/>
<rect x="1108" y="647" width="3" height="15" fill="#00ff00"/>
<rect x="1124" y="647" width="3" height="20" fill="#00ff00"/>
<rect x="1140" y="647" width="3" height="23" fill="#00ff00"/>
<rect x="1156" y="647" width="3" height="24" fill="#00ff00"/>
<rect x="1172" y="647" width="3" height="24" fill="#00ff00"/>
<rect x="1188" y="647" width="3" height="22" fill="#00ff00"/>
<rect x="1204" y="647" width="3" height="21" fill="#00ff00"/>
<rect x="1220" y="647" width="3" height="19" fill="#00ff00"/>
<rect x="1236" y="647" width="3" height="18" fill="#00ff00"/>
<rect x="1252" y="647" width="3" height="17" fill="#00ff00"/>
<polyline points="5.5,669.2 21.5,669.2 37.5,670.4 53.5,671.4 69.5,673.4 85.5,675.8 101.5,679.4 117.5,680.8 133.5,682 149.5,683.8 165.5,685.8 181.5,686.8 197.5,689.7 213.5,692.1 229.5,693.7 245.5,695.7 261.5,696.7 277.5,697.1 293.5,697.7 309.5,697.7 325.5,695.7 341.5,691.1 357.5,687.2 373.5,681.8 389.5,676.8 405.5,670.8 421.5,664.8 437.5,658.4 453.5,653.9 469.5,647.9 485.5,642.9 501.5,637.9 517.5,634.5 533.5,631.3 549.5,628.5 565.5,626.5 581.5,625.5 597.5,624.5 613.5,623.9 629.5,623.3 645.5,622.5 661.5,621.4 677.5,620.6 693.5,620 709.5,619 725.5,618 741.5,616 757.5,616 773.5,616.4 789.5,617 805.5,618 821.5,619.4 837.5,620.6 853.5,622.5 869.5,624.3 885.5,626 901.5,628.5 917.5,630.9 933.5,633.9 949.5,636.5 965.5,639.3 981.5,640.9 997.5,642.1 1013.5,643.5 1029.5,644.3 1045.5,644.9 1061.5,644.9 1077.5,645.5 1093.5,646.3 1109.5,648.3 1125.5,650.5 1141.5,653.5 1157.5,656.4 1173.5,659.4 1189.5,662.8 1205.5,664.4 1221.5,666.8 1237.5,666.8 1253.5,666.8" fill="none" stroke="#ff0000" stroke-width="2.1"/>
</g>
<path d="M4.5 606.5H1612.5V708.5H4.5Z" fill="none" stroke="#000" stroke-width="1"/>
<g clip-path="url(#cr)">
<line x1="6" y1="730.5" x2="1612" y2="730.5" stroke="#000" stroke-width="1" stroke-dasharray="3,3"/>
<line x1="6" y1="757.5" x2="1612" y2="757.5" stroke="#000" stroke-width="1" stroke-dasharray="3,3"/>
<line x1="6" y1="790.5" x2="1612" y2="790.5" stroke="#000" stroke-width="1" stroke-dasharray="3,3"/>
<polyline points="5.5,773 21.5,769.2 37.5,771.4 53.5,774 69.5,771.2 85.5,773.2 101.5,773.2 117.5,773.2 133.5,772.7 149.5,771.2 165.5,775.8 181.5,779.4 197.5,779.4 213.5,776.3 229.5,773.8 245.5,770.9 261.5,771.6 277.5,765.1 293.5,764.9 309.5,761.8 325.5,754.9 341.5,759.9 357.5,751.9 373.5,749.3 389.5,748.9 405.5,750.5 421.5,748.3 437.5,749.5 453.5,749.5 469.5,745.4 485.5,745 501.5,745.6 517.5,744.6 533.5,748.3 549.5,753.9 565.5,753.9 581.5,753.9 597.5,753.9 613.5,742 629.5,743.6 645.5,743 661.5,742.4 677.5,741.6 693.5,751.5 709.5,751.5 725.5,747.5 741.5,747 757.5,750.5 773.5,750.5 789.5,750.5 805.5,749.5 821.5,752.3 837.5,757.5 853.5,754.9 869.5,756.3 885.5,760.9 901.5,764.9 917.5,760.9 933.5,763.9 949.5,756.9 965.5,756.7 981.5,753.9 997.5,753.9 1013.5,756.5 1029.5,754.9 1045.5,761.3 1061.5,761.9 1077.5,764.3 1093.5,767.9 1109.5,772.5 1125.5,772.5 1141.5,769.9 1157.5,769.9 1173.5,765.9 1189.5,762.5 1205.5,762.5 1221.5,761.9 1237.5,760.9 1253.5,760.9" fill="none" stroke="#1e90ff" stroke-width="2.2"/>
</g>
<path d="M4.5 710.5H1612.5V804.5H4.5Z" fill="none" stroke="#000" stroke-width="1"/>
<rect x="1613" y="40" width="2" height="1" fill="#000"/>
<rect x="1613" y="73" width="2" height="1" fill="#000"/>
<rect x="1613" y="106" width="2" height="1" fill="#000"/>
<rect x="1613" y="139" width="2" height="1" fill="#000"/>
<rect x="1613" y="172" width="2" height="1" fill="#000"/>
<rect x="1613" y="205" width="2" height="1" fill="#000"/>
<rect x="1613" y="238" width="2" height="1" fill="#000"/>
<rect x="1613" y="271" width="2" height="1" fill="#000"/>
<rect x="1613" y="304" width="2" height="1" fill="#000"/>
<rect x="1613" y="337" width="2" height="1" fill="#000"/>
<rect x="1613" y="370" width="2" height="1" fill="#000"/>
<rect x="1613" y="403" width="2" height="1" fill="#000"/>
<rect x="1613" y="436" width="2" height="1" fill="#000"/>
<rect x="1613" y="469" width="2" height="1" fill="#000"/>
<rect x="1613" y="502" width="2" height="1" fill="#000"/>
<rect x="1613" y="535" width="2" height="1" fill="#000"/>
<rect x="1613" y="568" width="2" height="1" fill="#000"/>
<rect x="1613" y="601" width="2" height="1" fill="#000"/>
<rect x="1613" y="608" width="2" height="1" fill="#000"/>
<rect x="1613" y="647" width="2" height="1" fill="#000"/>
<rect x="1613" y="708" width="2" height="1" fill="#000"/>
<rect x="1613" y="711" width="2" height="1" fill="#000"/>
<rect x="1613" y="803" width="2" height="1" fill="#000"/>
<rect x="5" y="805" width="1" height="3" fill="#000"/>
<rect x="69" y="805" width="1" height="3" fill="#000"/>
<rect x="133" y="805" width="1" height="3" fill="#000"/>
<rect x="197" y="805" width="1" height="3" fill="#000"/>
<rect x="261" y="805" width="1" height="3" fill="#000"/>
<rect x="325" y="805" width="1" height="3" fill="#000"/>
<rect x="389" y="805" width="1" height="3" fill="#000"/>
<rect x="453" y="805" width="1" height="3" fill="#000"/>
<rect x="517" y="805" width="1" height="3" fill="#000"/>
<rect x="581" y="805" width="1" height="3" fill="#000"/>
<rect x="645" y="805" width="1" height="3" fill="#000"/>
<rect x="709" y="805" width="1" height="3" fill="#000"/>
<rect x="773" y="805" width="1" height="3" fill="#000"/>
<rect x="837" y="805" width="1" height="3" fill="#000"/>
<rect x="901" y="805" width="1" height="3" fill="#000"/>
<rect x="965" y="805" width="1" height="3" fill="#000"/>
<rect x="1029" y="805" width="1" height="3" fill="#000"/>
<rect x="1093" y="805" width="1" height="3" fill="#000"/>
<rect x="1157" y="805" width="1" height="3" fill="#000"/>
<rect x="1221" y="805" width="1" height="3" fill="#000"/>
<polygon points="8,35 15,35 11.5,39" fill="#000"/>
<g shape-rendering="auto">
<text x="1618" y="44" fill="#000" stroke="#000" stroke-width="0.22" font-size="9.8" textLength="28.44" lengthAdjust="spacingAndGlyphs" >87.140</text>
<text x="1618" y="77" fill="#000" stroke="#000" stroke-width="0.22" font-size="9.8" textLength="28.44" lengthAdjust="spacingAndGlyphs" >86.660</text>
<text x="1618" y="110" fill="#000" stroke="#000" stroke-width="0.22" font-size="9.8" textLength="28.44" lengthAdjust="spacingAndGlyphs" >86.180</text>
<text x="1618" y="143" fill="#000" stroke="#000" stroke-width="0.22" font-size="9.8" textLength="28.44" lengthAdjust="spacingAndGlyphs" >85.690</text>
<text x="1618" y="176" fill="#000" stroke="#000" stroke-width="0.22" font-size="9.8" textLength="28.44" lengthAdjust="spacingAndGlyphs" >85.210</text>
<text x="1618" y="209" fill="#000" stroke="#000" stroke-width="0.22" font-size="9.8" textLength="28.44" lengthAdjust="spacingAndGlyphs" >84.720</text>
<text x="1618" y="242" fill="#000" stroke="#000" stroke-width="0.22" font-size="9.8" textLength="28.44" lengthAdjust="spacingAndGlyphs" >84.240</text>
<text x="1618" y="275" fill="#000" stroke="#000" stroke-width="0.22" font-size="9.8" textLength="28.44" lengthAdjust="spacingAndGlyphs" >83.760</text>
<text x="1618" y="308" fill="#000" stroke="#000" stroke-width="0.22" font-size="9.8" textLength="28.44" lengthAdjust="spacingAndGlyphs" >83.270</text>
<text x="1618" y="341" fill="#000" stroke="#000" stroke-width="0.22" font-size="9.8" textLength="28.44" lengthAdjust="spacingAndGlyphs" >82.790</text>
<text x="1618" y="374" fill="#000" stroke="#000" stroke-width="0.22" font-size="9.8" textLength="28.44" lengthAdjust="spacingAndGlyphs" >82.300</text>
<text x="1618" y="407" fill="#000" stroke="#000" stroke-width="0.22" font-size="9.8" textLength="28.44" lengthAdjust="spacingAndGlyphs" >81.820</text>
<text x="1618" y="440" fill="#000" stroke="#000" stroke-width="0.22" font-size="9.8" textLength="28.44" lengthAdjust="spacingAndGlyphs" >81.330</text>
<text x="1618" y="473" fill="#000" stroke="#000" stroke-width="0.22" font-size="9.8" textLength="28.44" lengthAdjust="spacingAndGlyphs" >80.850</text>
<text x="1618" y="506" fill="#000" stroke="#000" stroke-width="0.22" font-size="9.8" textLength="28.44" lengthAdjust="spacingAndGlyphs" >80.370</text>
<text x="1618" y="539" fill="#000" stroke="#000" stroke-width="0.22" font-size="9.8" textLength="28.44" lengthAdjust="spacingAndGlyphs" >79.880</text>
<text x="1618" y="572" fill="#000" stroke="#000" stroke-width="0.22" font-size="9.8" textLength="28.44" lengthAdjust="spacingAndGlyphs" >79.400</text>
<text x="1618" y="605" fill="#000" stroke="#000" stroke-width="0.22" font-size="9.8" textLength="28.44" lengthAdjust="spacingAndGlyphs" >78.910</text>
<text x="1616" y="617" fill="#000" stroke="#000" stroke-width="0.22" font-size="9.8" textLength="28.44" lengthAdjust="spacingAndGlyphs" >0.9642</text>
<text x="1616" y="651" fill="#000" stroke="#000" stroke-width="0.22" font-size="9.8" textLength="18.10" lengthAdjust="spacingAndGlyphs" >0.00</text>
<text x="1616" y="705" fill="#000" stroke="#000" stroke-width="0.22" font-size="9.8" textLength="31.54" lengthAdjust="spacingAndGlyphs" >-1.4583</text>
<text x="1617" y="721" fill="#000" stroke="#000" stroke-width="0.22" font-size="9.8" textLength="15.52" lengthAdjust="spacingAndGlyphs" >100</text>
<text x="1615" y="734" fill="#000" stroke="#000" stroke-width="0.22" font-size="9.8" textLength="10.34" lengthAdjust="spacingAndGlyphs" >80</text>
<text x="1615" y="761" fill="#000" stroke="#000" stroke-width="0.22" font-size="9.8" textLength="10.34" lengthAdjust="spacingAndGlyphs" >50</text>
<text x="1615" y="794" fill="#000" stroke="#000" stroke-width="0.22" font-size="9.8" textLength="10.34" lengthAdjust="spacingAndGlyphs" >15</text>
<text x="1616" y="801" fill="#000" stroke="#000" stroke-width="0.22" font-size="9.8" textLength="5.17" lengthAdjust="spacingAndGlyphs" >0</text>
<text x="4" y="817" fill="#000" stroke="#000" stroke-width="0.22" font-size="9.8" textLength="47.05" lengthAdjust="spacingAndGlyphs" >1 Feb 2023</text>
<text x="68" y="817" fill="#000" stroke="#000" stroke-width="0.22" font-size="9.8" textLength="49.64" lengthAdjust="spacingAndGlyphs" >2 Feb 13:00</text>
<text x="132" y="817" fill="#000" stroke="#000" stroke-width="0.22" font-size="9.8" textLength="49.64" lengthAdjust="spacingAndGlyphs" >3 Feb 05:00</text>
<text x="196" y="817" fill="#000" stroke="#000" stroke-width="0.22" font-size="9.8" textLength="49.64" lengthAdjust="spacingAndGlyphs" >3 Feb 21:00</text>
<text x="260" y="817" fill="#000" stroke="#000" stroke-width="0.22" font-size="9.8" textLength="49.64" lengthAdjust="spacingAndGlyphs" >6 Feb 13:00</text>
<text x="324" y="817" fill="#000" stroke="#000" stroke-width="0.22" font-size="9.8" textLength="49.64" lengthAdjust="spacingAndGlyphs" >7 Feb 05:00</text>
<text x="388" y="817" fill="#000" stroke="#000" stroke-width="0.22" font-size="9.8" textLength="49.64" lengthAdjust="spacingAndGlyphs" >7 Feb 21:00</text>
<text x="452" y="817" fill="#000" stroke="#000" stroke-width="0.22" font-size="9.8" textLength="49.64" lengthAdjust="spacingAndGlyphs" >8 Feb 13:00</text>
<text x="516" y="817" fill="#000" stroke="#000" stroke-width="0.22" font-size="9.8" textLength="49.64" lengthAdjust="spacingAndGlyphs" >9 Feb 05:00</text>
<text x="580" y="817" fill="#000" stroke="#000" stroke-width="0.22" font-size="9.8" textLength="49.64" lengthAdjust="spacingAndGlyphs" >9 Feb 21:00</text>
<text x="644" y="817" fill="#000" stroke="#000" stroke-width="0.22" font-size="9.8" textLength="54.81" lengthAdjust="spacingAndGlyphs" >10 Feb 13:00</text>
<text x="708" y="817" fill="#000" stroke="#000" stroke-width="0.22" font-size="9.8" textLength="54.81" lengthAdjust="spacingAndGlyphs" >13 Feb 05:00</text>
<text x="772" y="817" fill="#000" stroke="#000" stroke-width="0.22" font-size="9.8" textLength="54.81" lengthAdjust="spacingAndGlyphs" >13 Feb 21:00</text>
<text x="836" y="817" fill="#000" stroke="#000" stroke-width="0.22" font-size="9.8" textLength="54.81" lengthAdjust="spacingAndGlyphs" >14 Feb 13:00</text>
<text x="900" y="817" fill="#000" stroke="#000" stroke-width="0.22" font-size="9.8" textLength="54.81" lengthAdjust="spacingAndGlyphs" >15 Feb 05:00</text>
<text x="964" y="817" fill="#000" stroke="#000" stroke-width="0.22" font-size="9.8" textLength="54.81" lengthAdjust="spacingAndGlyphs" >15 Feb 21:00</text>
<text x="1028" y="817" fill="#000" stroke="#000" stroke-width="0.22" font-size="9.8" textLength="54.81" lengthAdjust="spacingAndGlyphs" >16 Feb 13:00</text>
<text x="1092" y="817" fill="#000" stroke="#000" stroke-width="0.22" font-size="9.8" textLength="54.81" lengthAdjust="spacingAndGlyphs" >17 Feb 05:00</text>
<text x="1156" y="817" fill="#000" stroke="#000" stroke-width="0.22" font-size="9.8" textLength="54.81" lengthAdjust="spacingAndGlyphs" >17 Feb 21:00</text>
<text x="1220" y="817" fill="#000" stroke="#000" stroke-width="0.22" font-size="9.8" textLength="54.81" lengthAdjust="spacingAndGlyphs" >20 Feb 13:00</text>
<text x="20" y="40" fill="#000" stroke="#000" stroke-width="0.22" font-size="9.8" textLength="43.2" lengthAdjust="spacingAndGlyphs">UKOil-,H4</text>
<text x="68.4" y="40" fill="#000" stroke="#000" stroke-width="0.22" font-size="9.8" textLength="121.53" lengthAdjust="spacingAndGlyphs" >83.865 83.892 83.825 83.842</text>
<text x="9" y="619" fill="#000" stroke="#000" stroke-width="0.22" font-size="9.8" textLength="132.86" lengthAdjust="spacingAndGlyphs" >MACD(12,26,9) -0.3710 -0.4776</text>
<text x="9" y="723" fill="#000" stroke="#000" stroke-width="0.22" font-size="9.8" textLength="68.24" lengthAdjust="spacingAndGlyphs" >RSI(14) 46.1791</text>
<rect x="1614" y="205" width="36" height="11" fill="#ff0000"/>
<text x="1618" y="214" fill="#fff" stroke="#fff" stroke-width="0.22" font-size="9.8" textLength="28.44" lengthAdjust="spacingAndGlyphs">84.635</text>
<rect x="1614" y="236" width="36" height="11" fill="#ff0000"/>
<text x="1618" y="245" fill="#fff" stroke="#fff" stroke-width="0.22" font-size="9.8" textLength="28.44" lengthAdjust="spacingAndGlyphs">84.181</text>
<rect x="1614" y="260" width="36" height="11" fill="#000000"/>
<text x="1618" y="269" fill="#fff" stroke="#fff" stroke-width="0.22" font-size="9.8" textLength="28.44" lengthAdjust="spacingAndGlyphs">83.842</text>
<rect x="1614" y="276" width="36" height="11" fill="#ff8000"/>
<text x="1618" y="285" fill="#fff" stroke="#fff" stroke-width="0.22" font-size="9.8" textLength="28.44" lengthAdjust="spacingAndGlyphs">83.595</text>
<rect x="1614" y="308" width="36" height="11" fill="#0000ff"/>
<text x="1618" y="317" fill="#fff" stroke="#fff" stroke-width="0.22" font-size="9.8" textLength="28.44" lengthAdjust="spacingAndGlyphs">83.127</text>
<rect x="1614" y="336" width="36" height="11" fill="#0000ff"/>
<text x="1618" y="345" fill="#fff" stroke="#fff" stroke-width="0.22" font-size="9.8" textLength="28.44" lengthAdjust="spacingAndGlyphs">82.717</text>
</g>
</svg>
</body></html>
